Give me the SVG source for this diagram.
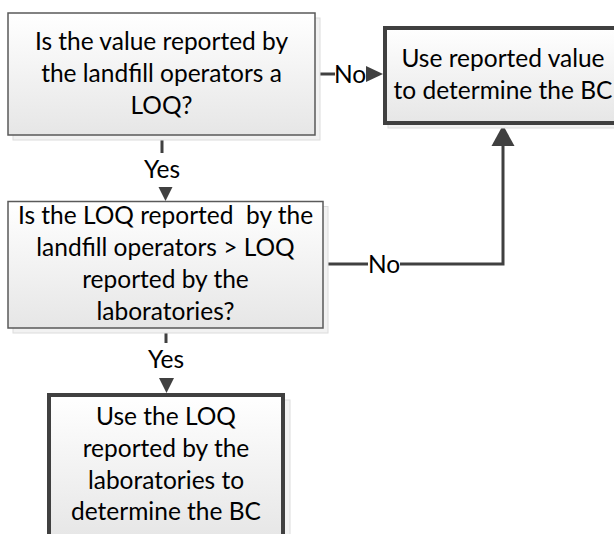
<svg xmlns="http://www.w3.org/2000/svg" width="614" height="534" viewBox="0 0 614 534">
<defs>
<linearGradient id="g" x1="0" y1="0" x2="0" y2="1">
<stop offset="0" stop-color="#ffffff"/>
<stop offset="1" stop-color="#e6e6e6"/>
</linearGradient>
<style>
.shadow{fill:#f2f2f2;stroke:#dcdcdc;stroke-width:1}
.dec{fill:url(#g);stroke:#595959;stroke-width:1.5}
.res{fill:url(#g);stroke:#404040;stroke-width:4}
.t{font-family:Lato,"Liberation Sans",sans-serif;font-size:24.5px;fill:#000;text-anchor:middle}
.ln{fill:none;stroke:#404040;stroke-width:3}
.ah{fill:#404040}
</style>
</defs>
<rect width="614" height="534" fill="#fff"/>
<g id="connectors">
<line class="ln" x1="315" y1="74" x2="335" y2="74"/>
<text class="t" x="350" y="82.5">No</text>
<polygon class="ah" points="366,66 383,74 366,82"/>
<line class="ln" x1="162" y1="135" x2="162" y2="153"/>
<text class="t" x="162" y="178">Yes</text>
<polygon class="ah" points="158.5,187 172.5,187 165.5,201"/>
<polyline class="ln" points="323,264 368,264"/>
<text class="t" x="384" y="272.5">No</text>
<polyline class="ln" points="400,264 503,264 503,145"/>
<polygon class="ah" points="491.5,146 514.5,146 503,125"/>
<line class="ln" x1="166" y1="328" x2="166" y2="343"/>
<text class="t" x="166" y="368">Yes</text>
<polygon class="ah" points="159,378 174,378 166.5,393"/>
</g>
<g id="n1">
<rect class="shadow" x="13" y="18" width="307" height="122"/>
<rect class="dec" x="8" y="13" width="307" height="122"/>
<text class="t" x="161.5" y="49.5">Is the value reported by</text>
<text class="t" x="161.5" y="81.5">the landfill operators a</text>
<text class="t" x="161.5" y="113.5">LOQ?</text>
</g>
<g id="n2">
<rect class="shadow" x="388" y="31" width="236" height="97"/>
<rect class="res" x="385" y="28" width="236" height="95"/>
<text class="t" x="503" y="67">Use reported value</text>
<text class="t" x="503" y="99">to determine the BC</text>
</g>
<g id="n3">
<rect class="shadow" x="13" y="206.5" width="315" height="126.5"/>
<rect class="dec" x="8" y="201.5" width="315" height="126.5"/>
<text class="t" x="165.5" y="223.5" xml:space="preserve">Is the LOQ reported  by the</text>
<text class="t" x="165.5" y="255.5">landfill operators &gt; LOQ</text>
<text class="t" x="165.5" y="287.5">reported by the</text>
<text class="t" x="165.5" y="319.5">laboratories?</text>
</g>
<g id="n4">
<rect class="shadow" x="54" y="400" width="236" height="145"/>
<rect class="res" x="49" y="395" width="234" height="145"/>
<text class="t" x="166" y="425">Use the LOQ</text>
<text class="t" x="166" y="456.5">reported by the</text>
<text class="t" x="166" y="488.5">laboratories to</text>
<text class="t" x="166" y="520">determine the BC</text>
</g>
</svg>
